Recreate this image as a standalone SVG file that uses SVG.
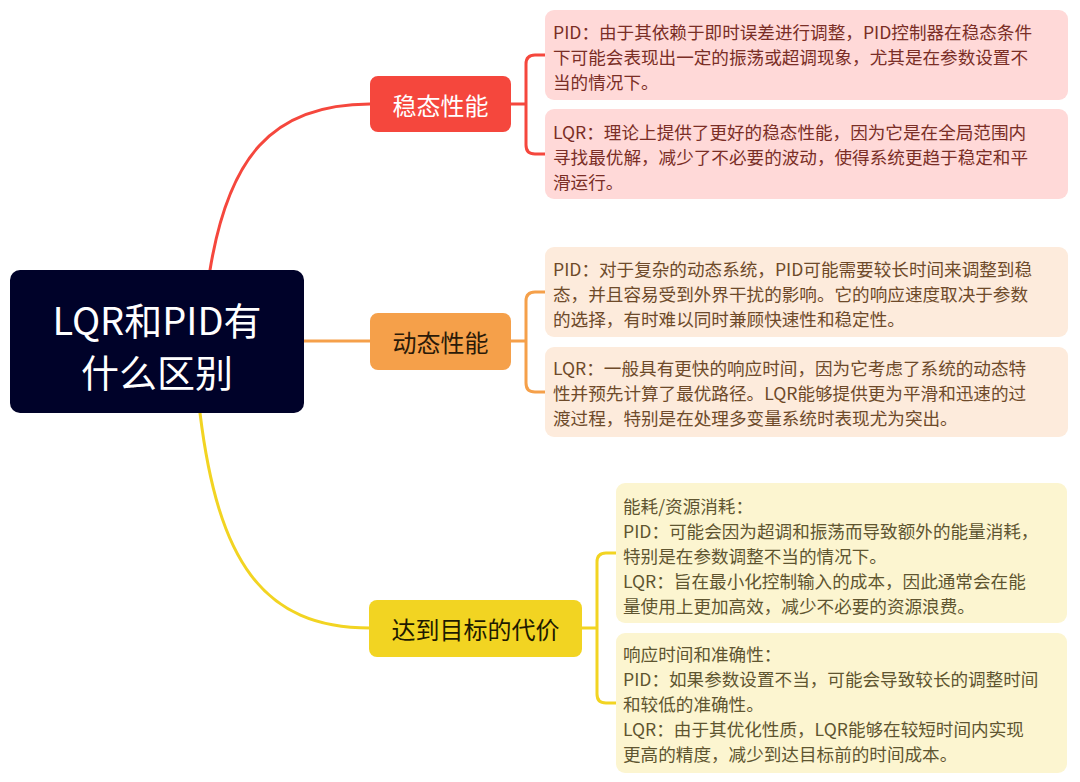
<svg xmlns="http://www.w3.org/2000/svg" width="1080" height="782" viewBox="0 0 1080 782">
<style>
text{font-family:"Noto Sans CJK SC","Noto Sans",sans-serif}
.leaf{font-size:17.6px;dominant-baseline:central}
.red .box{fill:#ffd9d8}
.red text{fill:#7a2e26}
.ora .box{fill:#fdebdc}
.ora text{fill:#6e4a2a}
.yel .box{fill:#fcf5d0}
.yel text{fill:#5f5530}
.conn{fill:none;stroke-width:3;stroke-linecap:round}
.topic{font-size:24px;text-anchor:middle;dominant-baseline:central}
</style>
<rect width="1080" height="782" fill="#ffffff"/>
<g id="connectors">
<path class="conn" stroke="#f5473d" d="M210,270 C228,160 270,104 370,104"/>
<path class="conn" stroke="#f5a04a" d="M304,341 H370"/>
<path class="conn" stroke="#f2d422" d="M200,413 C218,560 262,628 370,628"/>
<path class="conn" stroke="#f5473d" d="M511,104 H526 M545,55 H535 Q526,55 526,64 V145 Q526,154 535,154 H545"/>
<path class="conn" stroke="#f5a04a" d="M511,341 H526 M545,292 H535 Q526,292 526,301 V383 Q526,392 535,392 H545"/>
<path class="conn" stroke="#f2d422" d="M582,628 H597 M616,553 H606 Q597,553 597,562 V694 Q597,703 606,703 H616"/>
</g>
<g id="root">
<rect x="10" y="270" width="294" height="143" rx="10" fill="#000229"/>
<text x="157" y="318" font-size="38" fill="#ffffff" text-anchor="middle" dominant-baseline="central">LQR和PID有</text>
<text x="157" y="370" font-size="38" fill="#ffffff" text-anchor="middle" dominant-baseline="central">什么区别</text>
</g>
<g id="steady">
<rect x="370" y="76" width="141" height="56" rx="8" fill="#f5473d"/>
<text class="topic" x="440.5" y="104" fill="#ffffff">稳态性能</text>
</g>
<g id="dynamic">
<rect x="370" y="313" width="141" height="57" rx="8" fill="#f5a04a"/>
<text class="topic" x="440.5" y="341" fill="#2b1a08">动态性能</text>
</g>
<g id="cost">
<rect x="369" y="600" width="213" height="57" rx="8" fill="#f2d422"/>
<text class="topic" x="475.5" y="628" fill="#1e1a00">达到目标的代价</text>
</g>
<g id="steady-pid" class="red">
<rect class="box" x="545" y="10" width="523" height="90" rx="9"/>
<text class="leaf" x="553" y="31">PID：由于其依赖于即时误差进行调整，PID控制器在稳态条件</text>
<text class="leaf" x="553" y="56">下可能会表现出一定的振荡或超调现象，尤其是在参数设置不</text>
<text class="leaf" x="553" y="81">当的情况下。</text>
</g>
<g id="steady-lqr" class="red">
<rect class="box" x="545" y="109" width="523" height="90" rx="9"/>
<text class="leaf" x="553" y="131">LQR：理论上提供了更好的稳态性能，因为它是在全局范围内</text>
<text class="leaf" x="553" y="156">寻找最优解，减少了不必要的波动，使得系统更趋于稳定和平</text>
<text class="leaf" x="553" y="181">滑运行。</text>
</g>
<g id="dynamic-pid" class="ora">
<rect class="box" x="545" y="247" width="523" height="90" rx="9"/>
<text class="leaf" x="553" y="268">PID：对于复杂的动态系统，PID可能需要较长时间来调整到稳</text>
<text class="leaf" x="553" y="293">态，并且容易受到外界干扰的影响。它的响应速度取决于参数</text>
<text class="leaf" x="553" y="318">的选择，有时难以同时兼顾快速性和稳定性。</text>
</g>
<g id="dynamic-lqr" class="ora">
<rect class="box" x="545" y="347" width="523" height="90" rx="9"/>
<text class="leaf" x="553" y="367">LQR：一般具有更快的响应时间，因为它考虑了系统的动态特</text>
<text class="leaf" x="553" y="392">性并预先计算了最优路径。LQR能够提供更为平滑和迅速的过</text>
<text class="leaf" x="553" y="417">渡过程，特别是在处理多变量系统时表现尤为突出。</text>
</g>
<g id="cost-energy" class="yel">
<rect class="box" x="616" y="483" width="451" height="140" rx="9"/>
<text class="leaf" x="623" y="505">能耗/资源消耗：</text>
<text class="leaf" x="623" y="530">PID：可能会因为超调和振荡而导致额外的能量消耗，</text>
<text class="leaf" x="623" y="555">特别是在参数调整不当的情况下。</text>
<text class="leaf" x="623" y="580">LQR：旨在最小化控制输入的成本，因此通常会在能</text>
<text class="leaf" x="623" y="605">量使用上更加高效，减少不必要的资源浪费。</text>
</g>
<g id="cost-time" class="yel">
<rect class="box" x="616" y="633" width="451" height="140" rx="9"/>
<text class="leaf" x="623" y="653">响应时间和准确性：</text>
<text class="leaf" x="623" y="678">PID：如果参数设置不当，可能会导致较长的调整时间</text>
<text class="leaf" x="623" y="703">和较低的准确性。</text>
<text class="leaf" x="623" y="728">LQR：由于其优化性质，LQR能够在较短时间内实现</text>
<text class="leaf" x="623" y="753">更高的精度，减少到达目标前的时间成本。</text>
</g>
</svg>
